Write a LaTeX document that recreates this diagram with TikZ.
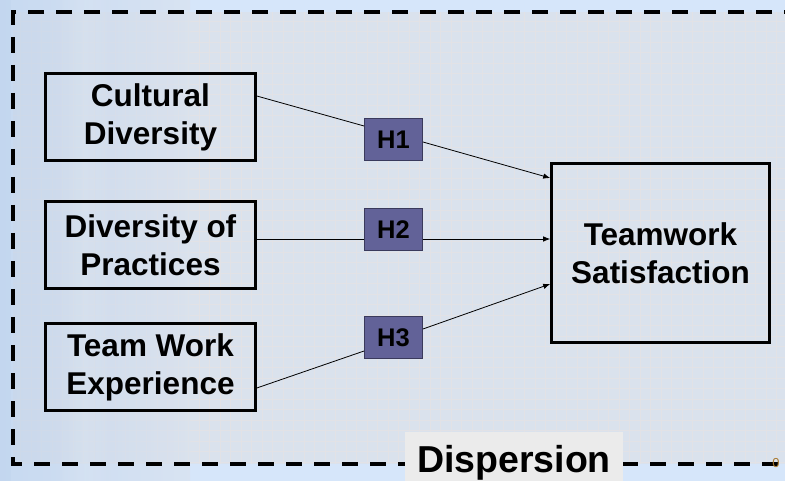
\documentclass[tikz,border=0pt]{standalone}
\usepackage{fontspec}
\setmainfont{Liberation Sans}
\usetikzlibrary{arrows.meta,calc}
\definecolor{outerbg}{HTML}{D6E6FA}
\definecolor{innerbg}{HTML}{DAE2ED}
\definecolor{gridc}{HTML}{E2E2E6}
\definecolor{hfill}{HTML}{626298}
\definecolor{hdraw}{HTML}{3A3A5C}
\definecolor{dispfill}{HTML}{EBEBEB}
\definecolor{bldA}{HTML}{BDD1EC}
\definecolor{numc}{HTML}{A8782E}
\tikzset{
  varbox/.style={draw=black, line width=2.6pt, minimum width=210pt, minimum height=87pt,
    inner sep=0pt, align=center, font=\fontsize{31.5}{38}\selectfont\bfseries},
  hbox/.style={draw=hdraw, fill=hfill, line width=0.9pt, minimum width=58pt, minimum height=42pt,
    inner sep=0pt, font=\fontsize{25.5}{30}\selectfont\bfseries},
  link/.style={line width=0.8pt, draw=black},
  arr/.style={link, -{Latex[length=7pt,width=5.5pt]}},
  frame/.style={line width=4pt, dash pattern=on 16pt off 12pt}
}
\begin{document}
\begin{tikzpicture}[x=1pt,y=-1pt]
\useasboundingbox (0,0) rectangle (785,481);
\begin{scope}
\clip (0,0) rectangle (785,481);
% backgrounds
\fill[outerbg] (0,0) rectangle (785,481);
\fill[innerbg] (13,12) rectangle (785,464);
\foreach \gx in {20.5,31,...,785} \draw[gridc, line width=0.6pt] (\gx,12) -- (\gx,464);
\foreach \gy in {21,31.5,...,464} \draw[gridc, line width=0.6pt] (13,\gy) -- (785,\gy);
% faint building on the left
\shade[left color=bldA, right color=innerbg, opacity=0.6] (0,0) rectangle (190,481);
\shade[left color=innerbg, right color=white, opacity=0.12] (60,0) rectangle (85,481);
\shade[left color=white, right color=innerbg, opacity=0.12] (85,0) rectangle (110,481);
\fill[bldA, opacity=0.3] (0,0) rectangle (11,481);
% dashed frame
\draw[frame] (800,12) -- (13,12) -- (13,464) -- (800,464);
\end{scope}

% variables
\node[varbox] (cd) at (150.5,117) {Cultural\\Diversity};
\node[varbox] (dp) at (150.5,245) {Diversity of\\Practices};
\node[varbox] (tw) at (150.5,367) {Team Work\\Experience};
\node[varbox, minimum width=218pt, minimum height=179pt] (ts) at (660.5,253) {Teamwork\\Satisfaction};

% hypotheses
\node[hbox] (h1) at (393.5,139.5) {H1};
\node[hbox] (h2) at (393.5,229.5) {H2};
\node[hbox] (h3) at (393.5,337.5) {H3};

% connectors
\draw[link] ([yshift=21pt]cd.east) -- ([yshift=13.5pt]h1.west);
\draw[arr] ([yshift=-2.5pt]h1.east) -- ([yshift=75pt]ts.west);
\draw[link] ([yshift=6pt]dp.east) -- ([yshift=-9.5pt]h2.west);
\draw[arr] ([yshift=-9.5pt]h2.east) -- ([yshift=14pt]ts.west);
\draw[link] ([yshift=-21pt]tw.east) -- ([yshift=-13.5pt]h3.west);
\draw[arr] ([yshift=8.5pt]h3.east) -- ([yshift=-31pt]ts.west);

% dispersion label
\begin{scope}
\clip (0,0) rectangle (785,481);
\node[fill=dispfill, anchor=base, minimum width=218pt, inner sep=0pt, text height=40pt, text depth=12pt,
  font=\fontsize{37.5}{40}\selectfont\bfseries] (disp) at (514,472) {Dispersion};
\node[text=numc, font=\fontsize{13}{14}\selectfont, inner sep=0pt] (num) at (776,463) {0};
\end{scope}
\end{tikzpicture}
\end{document}
